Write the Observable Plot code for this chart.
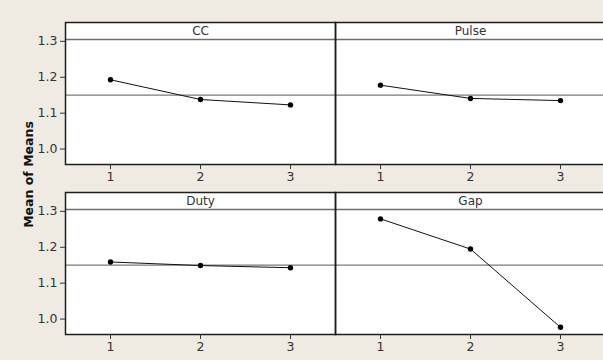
<!DOCTYPE html>
<html>
<head>
<meta charset="utf-8">
<script src="https://cdn.jsdelivr.net/npm/d3@7"></script>
<script src="https://cdn.jsdelivr.net/npm/@observablehq/plot@0.6"></script>
<style>
  html, body { margin: 0; padding: 0; background: #EFEBE2; overflow: hidden; }
  #chart svg { display: block; }
</style>
</head>
<body>
<div id="chart"></div>
<script>
// ---- data ----
const factors = ["CC", "Pulse", "Duty", "Gap"];
const factorCol = [0, 1, 0, 1];
const factorRow = [0, 0, 1, 1];
const levels = [1, 2, 3];
const ccMeans = [1.193, 1.138, 1.123];
const pulseMeans = [1.178, 1.141, 1.135];
const dutyMeans = [1.159, 1.149, 1.143];
const gapMeans = [1.279, 1.195, 0.977];
const grandMean = 1.15;
const yTicks = [1.0, 1.1, 1.2, 1.3];
const yDomain = [0.957, 1.3525];
const stripLine = 1.305;
const yTitle = "Mean of Means";

const seriesByFactor = [ccMeans, pulseMeans, dutyMeans, gapMeans];
const points = [];
factors.forEach((f, i) => {
  levels.forEach((lv, j) => {
    points.push({factor: f, col: factorCol[i], row: factorRow[i], level: lv, mean: seriesByFactor[i][j]});
  });
});
const panels = factors.map((f, i) => ({factor: f, col: factorCol[i], row: factorRow[i]}));
const titlePanel = [panels[0]];

const font = "DejaVu Sans, Verdana, sans-serif";

const chart = Plot.plot({
  width: 603,
  height: 360,
  marginLeft: 65,
  marginRight: -2,
  marginTop: 21,
  marginBottom: 25,
  style: {background: "#EFEBE2", fontFamily: font, fontSize: "12px", color: "#222"},
  fx: {domain: [0, 1], axis: null, paddingInner: 0, paddingOuter: 0},
  fy: {domain: [0, 1], axis: null, paddingInner: 0.1637, paddingOuter: 0},
  x: {domain: [0.5, 3.5], axis: null},
  y: {domain: yDomain, axis: null},
  marks: [
    Plot.frame({fill: "white", stroke: null}),
    Plot.ruleY(panels, {y: () => stripLine, fx: "col", fy: "row", stroke: "#6e6e6e", strokeWidth: 1.4}),
    Plot.ruleY(panels, {y: () => grandMean, fx: "col", fy: "row", stroke: "#7a7a7a", strokeWidth: 1.2}),
    Plot.text(panels, {fx: "col", fy: "row", text: "factor", frameAnchor: "top", dy: 9, lineAnchor: "middle", fontSize: 12, fill: "#333"}),
    Plot.line(points, {x: "level", y: "mean", fx: "col", fy: "row", z: "factor", stroke: "#111", strokeWidth: 1}),
    Plot.dot(points, {x: "level", y: "mean", fx: "col", fy: "row", r: 2.7, fill: "#000", stroke: null}),
    Plot.frame({stroke: "#1e1e1e", strokeWidth: 1.5}),
    Plot.axisY({ticks: yTicks, tickFormat: d3.format(".1f"), tickSize: 5, tickPadding: 3, fontSize: 12.5, stroke: "#333", fill: "#333", label: null}),
    Plot.axisX({ticks: levels, tickFormat: d3.format("d"), tickSize: 5, tickPadding: 3, fontSize: 12.5, stroke: "#333", fill: "#333", label: null, facetAnchor: null}),
    Plot.text(titlePanel, {fx: "col", fy: "row", text: () => yTitle, frameAnchor: "bottom-left", dx: -37, dy: 10, rotate: -90, textAnchor: "middle", lineAnchor: "middle", fontSize: 12.5, fontWeight: "bold", fill: "#111"})
  ]
});
document.getElementById("chart").appendChild(chart);
</script>
</body>
</html>
